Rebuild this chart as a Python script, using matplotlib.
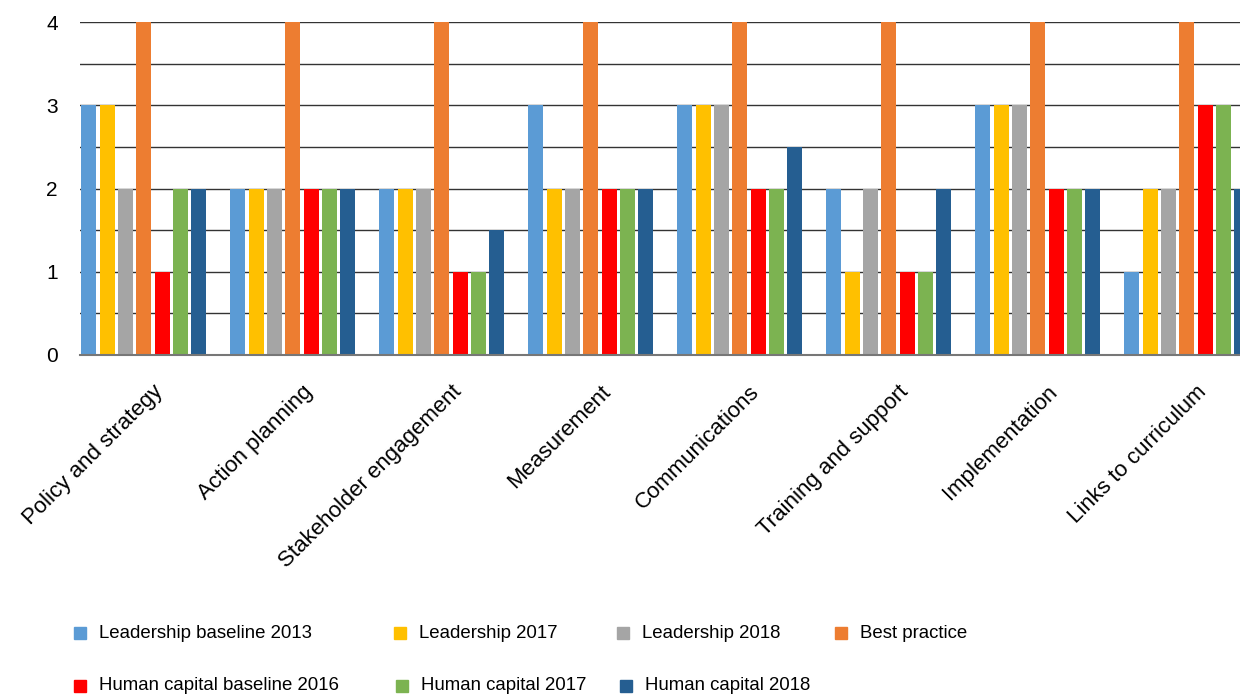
import numpy as np
import matplotlib
matplotlib.use("Agg")
import matplotlib.pyplot as plt
from matplotlib.patches import Rectangle
from matplotlib.transforms import ScaledTranslation

plt.rcParams['font.family'] = ['Liberation Sans', 'DejaVu Sans']

# Datos
categories = ["Policy and strategy", "Action planning", "Stakeholder engagement",
              "Measurement", "Communications", "Training and support",
              "Implementation", "Links to curriculum"]
series_names = ["Leadership baseline 2013", "Leadership 2017", "Leadership 2018",
                "Best practice", "Human capital baseline 2016", "Human capital 2017",
                "Human capital 2018"]
leadership_2013 = [3, 2, 2, 3, 3, 2, 3, 1]
leadership_2017 = [3, 2, 2, 2, 3, 1, 3, 2]
leadership_2018 = [2, 2, 2, 2, 3, 2, 3, 2]
best_practice = [4, 4, 4, 4, 4, 4, 4, 4]
human_capital_2016 = [1, 2, 1, 2, 2, 1, 2, 3]
human_capital_2017 = [2, 2, 1, 2, 2, 1, 2, 3]
human_capital_2018 = [2, 2, 1.5, 2, 2.5, 2, 2, 2]
series = [leadership_2013, leadership_2017, leadership_2018, best_practice,
          human_capital_2016, human_capital_2017, human_capital_2018]
colors = ["#5B9BD5", "#FFC000", "#A5A5A5", "#ED7D31", "#FF0000", "#7CB351", "#255E91"]

fig = plt.figure(figsize=(12.4, 6.97), dpi=100)
ax = fig.add_axes([80 / 1240, 342 / 697, 1192 / 1240, 333 / 697])

x = np.arange(len(categories))
step = 0.1228
width = 0.101
for j, (vals, c) in enumerate(zip(series, colors)):
    ax.bar(x + (j - 3) * step, vals, width=width, color=c, zorder=3)

ax.set_xlim(-0.428, 7.572)
ax.set_ylim(0, 4)
ax.set_yticks([0, 1, 2, 3, 4])
ax.set_yticks(np.arange(0, 4.01, 0.5), minor=True)
ax.grid(True, which='both', axis='y', color='#333333', linewidth=1.0, zorder=0)
ax.axhline(0, color='#777777', linewidth=1.5, clip_on=False, zorder=4)
ax.tick_params(axis='y', which='both', length=0, pad=16, labelsize=15)
ax.tick_params(axis='x', length=0, pad=19)
ax.set_xticks(x)
ax.set_xticklabels(categories, rotation=45, ha='right', va='top',
                   rotation_mode='anchor', fontsize=16)
shift = ScaledTranslation(9 / 100, 0, fig.dpi_scale_trans)
for lab in ax.get_xticklabels():
    lab.set_transform(lab.get_transform() + shift)
for s in ax.spines.values():
    s.set_visible(False)

# Leyenda manual
legend_pos = [(74, 633), (394, 633), (617, 633), (835, 633),
              (74, 686), (396, 686), (620, 686)]
for (px, py), name, c in zip(legend_pos, series_names, colors):
    fig.patches.append(Rectangle((px / 1240, (697 - py - 6) / 697), 12 / 1240, 12 / 697,
                                 transform=fig.transFigure, color=c))
    fig.text((px + 25) / 1240, (697 - py) / 697, name, fontsize=13.4, va='center')

fig.savefig("out.png", dpi=100)
